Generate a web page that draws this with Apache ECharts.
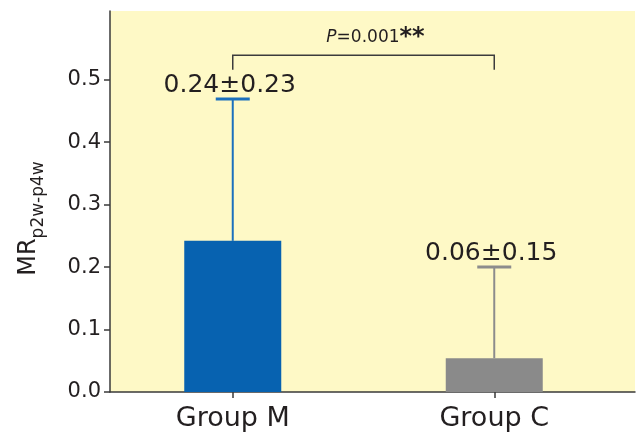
<!DOCTYPE html>
<html>
<head>
<meta charset="utf-8">
<script src="https://cdn.jsdelivr.net/npm/echarts@6/dist/echarts.min.js"></script>
<style>html,body{margin:0;padding:0;background:#fff}#c{width:638px;height:439px}</style>
</head>
<body>
<div id="c"></div>
<script>
// ---- data ----
const categories = ['Group M', 'Group C'];
const means = [0.242, 0.054];
const sds = [0.227, 0.146];
const valueLabels = ['0.24\u00b10.23', '0.06\u00b10.15'];
const yTicks = [0, 0.1, 0.2, 0.3, 0.4, 0.5];
const yMax = 0.61;
const bracket = [0, 1, 0.539, 0.516]; // from cat, to cat, top value, leg end value
const pText = ['P', '=0.001', '**'];

const barColors = ['#0762B0', '#8A8A8A'];
const errColors = ['#1B70BD', '#8C8C8C'];
const FONT = 'DejaVu Sans';
const TXT = '#231F20';
const AX = '#3A3A3A';

const chart = echarts.init(document.getElementById('c'), null, {renderer: 'canvas'});

const errData = categories.map((c, i) => [i, means[i], means[i] + sds[i]]);

const option = {
  animation: false,
  backgroundColor: '#ffffff',
  grid: [
    {left: 110, right: 3, top: 11, bottom: 47, show: true, backgroundColor: '#FEF9C6', borderWidth: 0},
    {left: 102, right: 13, top: 11, bottom: 47}
  ],
  xAxis: [
    {gridIndex: 0, type: 'category', data: categories,
     axisLine: {show: true, lineStyle: {color: AX, width: 1.5}},
     axisTick: {show: false}, axisLabel: {show: false}, splitLine: {show: false}},
    {gridIndex: 1, type: 'category', data: categories,
     axisLine: {show: false},
     axisTick: {show: true, alignWithLabel: true, length: 6, lineStyle: {color: AX, width: 1.5}},
     axisLabel: {fontFamily: FONT, fontSize: 27, color: TXT, margin: 13}}
  ],
  yAxis: [
    {gridIndex: 0, type: 'value', min: 0, max: yMax, interval: 0.1,
     axisLine: {show: true, lineStyle: {color: AX, width: 1.5}},
     axisTick: {show: true, length: 6, customValues: yTicks, lineStyle: {color: AX, width: 1.5}},
     axisLabel: {customValues: yTicks, fontFamily: FONT, fontSize: 21, color: TXT, margin: 9,
                 formatter: v => v.toFixed(1)},
     splitLine: {show: false},
     name: '{a|MR}{b|p2w-p4w}', nameLocation: 'middle', nameGap: 69,
     nameTextStyle: {
       padding: [0, 34, 0, 0],
       rich: {
         a: {fontFamily: FONT, fontSize: 24, color: TXT, lineHeight: 30, verticalAlign: 'bottom'},
         b: {fontFamily: FONT, fontSize: 17, color: TXT, lineHeight: 30, verticalAlign: 'bottom', padding: [0, 0, -6, 0]}
       }
     }},
    {gridIndex: 1, type: 'value', min: 0, max: yMax, interval: 0.1, show: false}
  ],
  series: [
    {type: 'bar', xAxisIndex: 1, yAxisIndex: 1, barWidth: 97,
     data: means.map((v, i) => ({value: v, itemStyle: {color: barColors[i]}}))},
    {type: 'custom', xAxisIndex: 1, yAxisIndex: 1, clip: false, z: 3,
     data: errData,
     renderItem: function (params, api) {
       const i = params.dataIndex;
       const p0 = api.coord([api.value(0), api.value(1)]);
       const p1 = api.coord([api.value(0), api.value(2)]);
       const half = 17;
       return {type: 'group', children: [
         {type: 'line', shape: {x1: p0[0], y1: p0[1], x2: p1[0], y2: p1[1]}, style: {stroke: errColors[i], lineWidth: 2}},
         {type: 'line', shape: {x1: p1[0] - half, y1: p1[1], x2: p1[0] + half, y2: p1[1]}, style: {stroke: errColors[i], lineWidth: 3}},
         {type: 'text', x: p1[0] - 3, y: p1[1] - 1,
          style: {text: valueLabels[i], fontFamily: FONT, fontSize: 25, fill: TXT, align: 'center', verticalAlign: 'bottom'}}
       ]};
     }},
    {type: 'custom', xAxisIndex: 1, yAxisIndex: 1, clip: false, z: 3,
     data: [bracket],
     renderItem: function (params, api) {
       const a = api.coord([api.value(0), api.value(3)]);
       const b = api.coord([api.value(0), api.value(2)]);
       const c = api.coord([api.value(1), api.value(2)]);
       const d = api.coord([api.value(1), api.value(3)]);
       return {type: 'group', children: [
         {type: 'polyline', shape: {points: [a, b, c, d]}, style: {stroke: '#3C3C3C', lineWidth: 1.5, fill: null}},
         {type: 'text', x: (b[0] + c[0]) / 2 + 12, y: b[1] - 18,
          style: {
            text: '{p|' + pText[0] + '}{n|' + pText[1] + '}{s|' + pText[2] + '}',
            align: 'center', verticalAlign: 'middle',
            rich: {
              p: {fontFamily: FONT, fontSize: 17, fontStyle: 'italic', fill: TXT, verticalAlign: 'middle'},
              n: {fontFamily: FONT, fontSize: 17, fill: TXT, verticalAlign: 'middle'},
              s: {fontFamily: FONT, fontSize: 24, fontWeight: 'bold', fill: TXT, verticalAlign: 'middle'}
            }
          }}
       ]};
     }}
  ]
};
chart.setOption(option);
</script>
</body>
</html>
